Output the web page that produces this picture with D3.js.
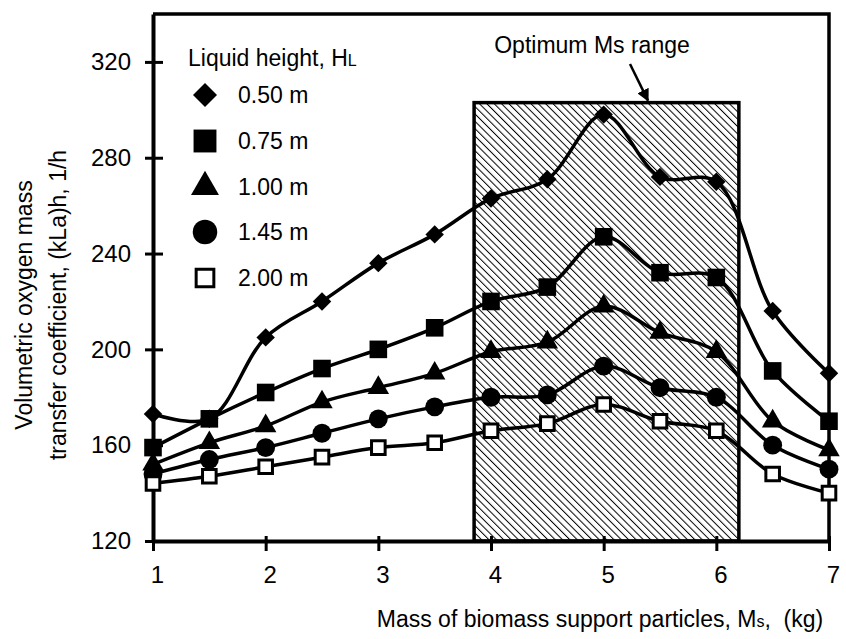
<!DOCTYPE html>
<html>
<head>
<meta charset="utf-8">
<script src="https://cdn.jsdelivr.net/npm/d3@7"></script>
<style>
  body { margin: 0; background: #fff; }
  svg { display: block; font-family: "Liberation Sans", Arial, sans-serif; }
</style>
</head>
<body>
<svg id="chart" width="846" height="639"></svg>
<script>
// data
const massKg = [1, 1.5, 2, 2.5, 3, 3.5, 4, 4.5, 5, 5.5, 6, 6.5, 7];
const heightLabels = ["0.50 m", "0.75 m", "1.00 m", "1.45 m", "2.00 m"];
const kla050 = [173, 171, 205, 220, 236, 248, 263, 271, 298, 272, 270, 216, 190];
const kla075 = [159, 171, 182, 192, 200, 209, 220, 226, 247, 232, 230, 191, 170];
const kla100 = [152, 161, 168, 178, 184, 190, 199, 203, 218, 207, 199, 170, 158];
const kla145 = [148, 154, 159, 165, 171, 176, 180, 181, 193, 184, 180, 160, 150];
const kla200 = [144, 147, 151, 155, 159, 161, 166, 169, 177, 170, 166, 148, 140];
const xTicks = [1, 2, 3, 4, 5, 6, 7];
const yTicks = [120, 160, 200, 240, 280, 320];
const optimumRange = [3.85, 6.2];
const optimumTop = 303;

const series = [kla050, kla075, kla100, kla145, kla200];
const symbols = ["diamond", "square", "triangle", "circle", "open"];

const svg = d3.select("#chart");
const mLeft = 153, mRight = 829, mTop = 14, mBottom = 541;

const x = d3.scaleLinear().domain([1, 7]).range([mLeft, mRight]);
const y = d3.scaleLinear().domain([120, 340]).range([mBottom, mTop]);

// hatch pattern
const defs = svg.append("defs");
defs.append("pattern")
  .attr("id", "hatch")
  .attr("patternUnits", "userSpaceOnUse")
  .attr("width", 5.2)
  .attr("height", 5.2)
  .attr("patternTransform", "rotate(-45)")
  .append("line")
  .attr("x1", 0).attr("y1", -1)
  .attr("x2", 0).attr("y2", 6.2)
  .attr("stroke", "#000")
  .attr("stroke-width", 2);

// optimum range box
svg.append("rect")
  .attr("x", x(optimumRange[0]))
  .attr("y", y(optimumTop))
  .attr("width", x(optimumRange[1]) - x(optimumRange[0]))
  .attr("height", y(120) - y(optimumTop))
  .attr("fill", "url(#hatch)")
  .attr("stroke", "#000")
  .attr("stroke-width", 3.5);

// frame
svg.append("path")
  .attr("d", `M${mLeft},${mTop}H${mRight}V${mBottom}`)
  .attr("fill", "none")
  .attr("stroke", "#000")
  .attr("stroke-width", 3.5);

// axes
const yAxis = svg.append("g")
  .attr("transform", `translate(${mLeft},0)`)
  .call(d3.axisLeft(y).tickValues(yTicks).tickSize(8).tickSizeOuter(0).tickFormat(d3.format("d")));
yAxis.select(".domain").attr("stroke-width", 4);
yAxis.selectAll(".tick line").attr("x1", -8).attr("x2", 10).attr("stroke-width", 3);
yAxis.selectAll(".tick text")
  .attr("x", -22)
  .attr("font-size", 24)
  .attr("fill", "#000");

const xAxis = svg.append("g")
  .attr("transform", `translate(0,${mBottom})`)
  .call(d3.axisBottom(x).tickValues(xTicks).tickSize(9).tickSizeOuter(0).tickFormat(d3.format("d")));
xAxis.select(".domain").attr("stroke-width", 4);
xAxis.selectAll(".tick line").attr("y1", -5).attr("y2", 10).attr("stroke-width", 3);
xAxis.selectAll(".tick text")
  .attr("y", 25)
  .attr("dx", 4)
  .attr("font-size", 24)
  .attr("fill", "#000");
svg.selectAll(".domain").attr("stroke", "#000");

// axis titles
const xTitle = svg.append("text")
  .attr("x", 600)
  .attr("y", 627)
  .attr("text-anchor", "middle")
  .attr("font-size", 23)
  .attr("fill", "#000");
xTitle.append("tspan").text("Mass of biomass support particles, M");
xTitle.append("tspan").attr("font-size", 16).text("s");
xTitle.append("tspan").text(",\u00a0 (kg)");

const yTitle = svg.append("text")
  .attr("transform", "translate(0,305) rotate(-90)")
  .attr("text-anchor", "middle")
  .attr("font-size", 23)
  .attr("fill", "#000");
yTitle.append("tspan").attr("x", 0).attr("y", 32).text("Volumetric oxygen mass");
yTitle.append("tspan").attr("x", 0).attr("y", 66).text("transfer coefficient, (kLa)h, 1/h");

// lines
const line = d3.line()
  .x((d, i) => x(massKg[i]))
  .y((d) => y(d))
  .curve(d3.curveCatmullRom.alpha(0.5));

svg.append("g")
  .selectAll("path")
  .data(series)
  .join("path")
  .attr("d", line)
  .attr("fill", "none")
  .attr("stroke", "#000")
  .attr("stroke-width", 3.5);

// markers
function marker(sel, type, scale) {
  const k = scale || 1;
  if (type == "diamond") {
    sel.append("path")
      .attr("d", d3.symbol(d3.symbolSquare, 170 * k * k)())
      .attr("transform", (d) => `${d.t} rotate(45)`)
      .attr("fill", "#000");
  } else if (type == "square") {
    sel.append("path")
      .attr("d", d3.symbol(d3.symbolSquare, 310 * k * k)())
      .attr("transform", (d) => d.t)
      .attr("fill", "#000");
  } else if (type == "triangle") {
    sel.append("path")
      .attr("d", d3.symbol(d3.symbolTriangle, 200 * k * k)())
      .attr("transform", (d) => d.t)
      .attr("fill", "#000");
  } else if (type == "circle") {
    sel.append("path")
      .attr("d", d3.symbol(d3.symbolCircle, 280 * k * k)())
      .attr("transform", (d) => d.t)
      .attr("fill", "#000");
  } else {
    sel.append("path")
      .attr("d", d3.symbol(d3.symbolSquare, 185 * k * k)())
      .attr("transform", (d) => d.t)
      .attr("fill", "#fff")
      .attr("stroke", "#000")
      .attr("stroke-width", 3);
  }
}

series.forEach((vals, s) => {
  const g = svg.append("g")
    .selectAll("g")
    .data(vals.map((v, i) => ({ t: `translate(${x(massKg[i])},${y(v)})` })))
    .join("g");
  marker(g, symbols[s]);
});

// legend
const legRows = [95, 141, 187, 232, 278];
const leg = svg.append("g");
const legTitle = leg.append("text")
  .attr("x", 188)
  .attr("y", 66)
  .attr("font-size", 23)
  .attr("fill", "#000");
legTitle.append("tspan").text("Liquid height, H");
legTitle.append("tspan").attr("font-size", 16).text("L");

heightLabels.forEach((lab, i) => {
  const g = leg.append("g").datum({ t: `translate(205,${legRows[i]})` });
  marker(g, symbols[i], 1.3);
  leg.append("text")
    .attr("x", 238)
    .attr("y", legRows[i])
    .attr("dy", "0.35em")
    .attr("font-size", 23)
    .attr("fill", "#000")
    .text(lab);
});

// annotation
svg.append("text")
  .attr("x", 592)
  .attr("y", 53)
  .attr("text-anchor", "middle")
  .attr("font-size", 23)
  .attr("fill", "#000")
  .text("Optimum Ms range");

defs.append("marker")
  .attr("id", "arrow")
  .attr("viewBox", "0 0 10 10")
  .attr("refX", 9)
  .attr("refY", 5)
  .attr("markerWidth", 5)
  .attr("markerHeight", 5)
  .attr("orient", "auto")
  .append("path")
  .attr("d", "M0,0L10,5L0,10Z")
  .attr("fill", "#000");

svg.append("line")
  .attr("x1", 630).attr("y1", 64)
  .attr("x2", 648).attr("y2", y(optimumTop) - 2)
  .attr("stroke", "#000")
  .attr("stroke-width", 2.5)
  .attr("marker-end", "url(#arrow)");
</script>
</body>
</html>
